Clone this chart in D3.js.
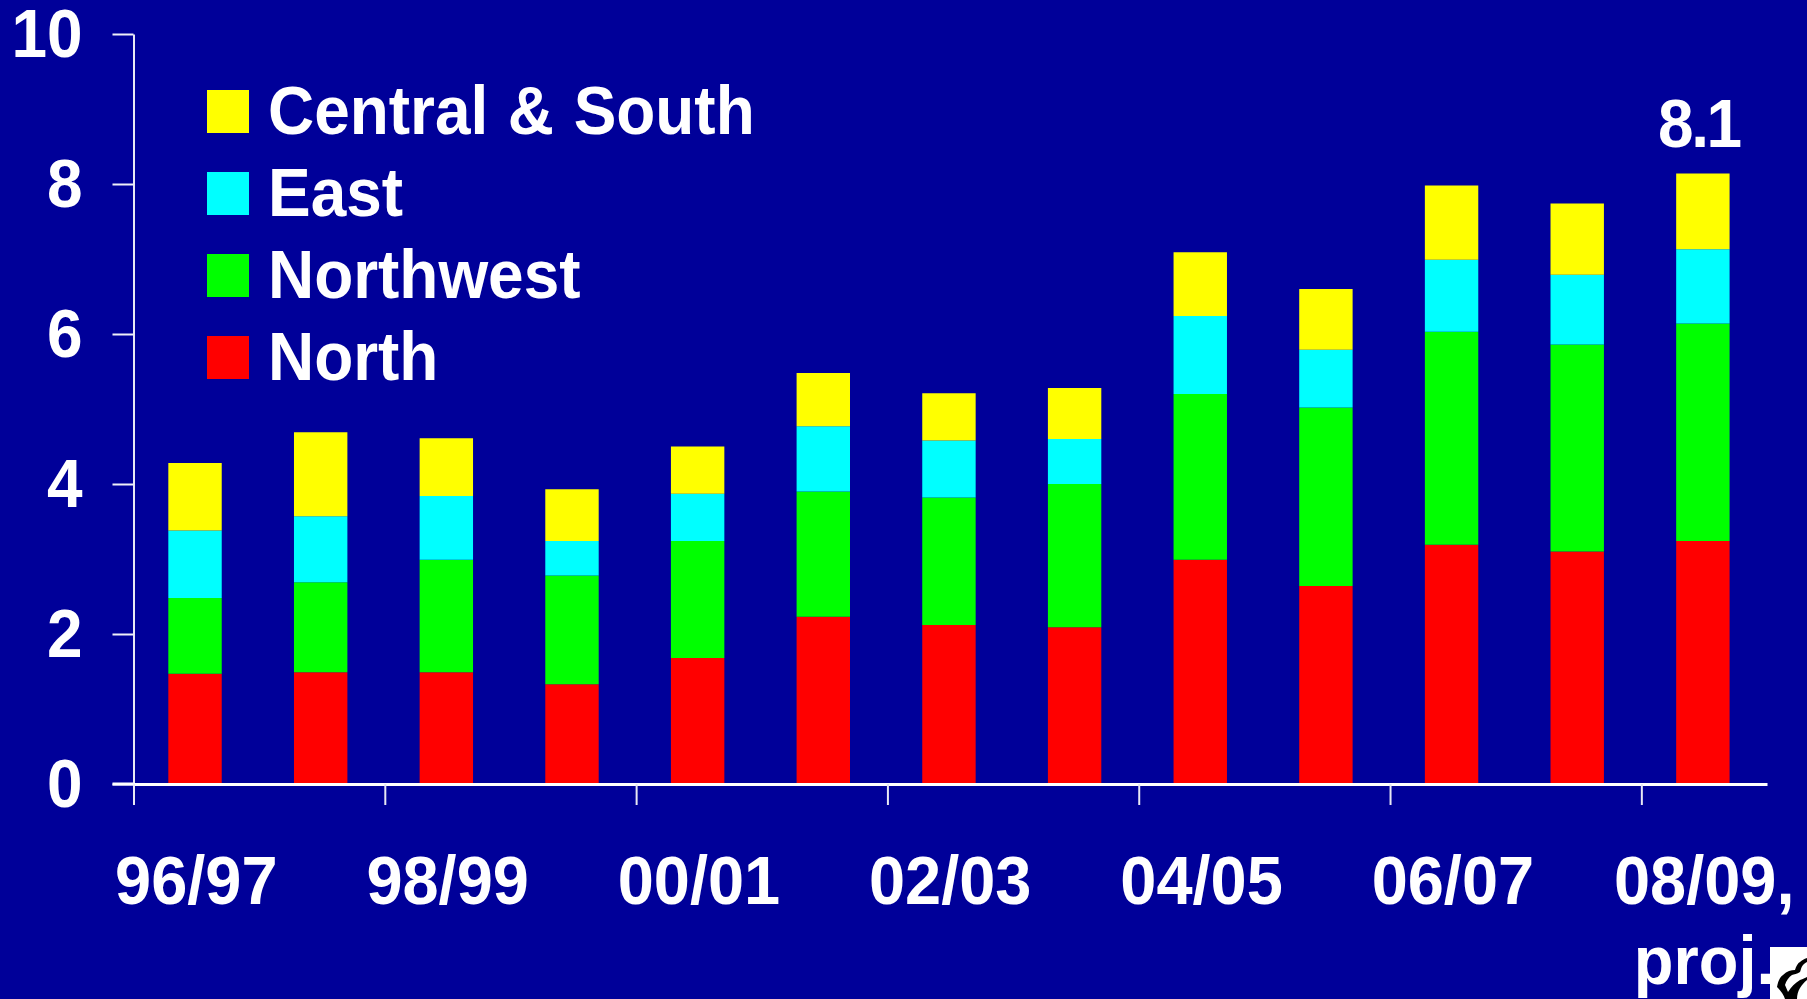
<!DOCTYPE html>
<html>
<head>
<meta charset="utf-8">
<script src="https://cdn.jsdelivr.net/npm/d3@7/dist/d3.min.js"></script>
<style>
html,body{margin:0;padding:0;background:#000099;overflow:hidden}
svg{display:block}
text{font-family:"Liberation Sans",Arial,sans-serif;font-weight:700;fill:#fff;font-size:68px}
</style>
</head>
<body>
<svg id="chart" width="1807" height="999"></svg>
<script>
const categories = ["96/97","97/98","98/99","99/00","00/01","01/02","02/03","03/04","04/05","05/06","06/07","07/08","08/09"];
const north     = [1.47,1.49,1.49,1.33,1.68,2.23,2.12,2.09,2.99,2.64,3.19,3.10,3.24];
const northwest = [1.01,1.20,1.50,1.45,1.56,1.67,1.70,1.91,2.21,2.38,2.84,2.76,2.90];
const east      = [0.90,0.88,0.85,0.46,0.63,0.87,0.76,0.60,1.04,0.77,0.96,0.93,0.99];
const central   = [0.90,1.12,0.77,0.69,0.63,0.71,0.63,0.68,0.85,0.81,0.99,0.95,1.01];
const seriesNames = ["North","Northwest","East","Central & South"];
const seriesColors = ["#ff0000","#00ff00","#00ffff","#ffff00"];
const yTicks = [0,2,4,6,8,10];
const xTickIndex = [0,2,4,6,8,10,12];
const xTickLabels = ["96/97","98/99","00/01","02/03","04/05","06/07","08/09,"];
const lastLabelLine2 = "proj.";
const totalLabel = "8.1";

const svg = d3.select("#chart");
const rows = categories.map((c,i)=>({cat:c,North:north[i],Northwest:northwest[i],East:east[i],"Central & South":central[i]}));
const stacked = d3.stack().keys(seriesNames)(rows);

const axisX0 = 133.5, axisX1 = 1767, axisY0 = 784, axisY1 = 34;
const y = d3.scaleLinear().domain([0,10]).range([axisY0,axisY1]);
const xIdx = d3.scaleLinear().domain([0,13]).range([axisX0,axisX1]);
const xBand = d3.scaleBand().domain(categories).range([axisX0-1.3,axisX1-1.3]).paddingInner(0.575).paddingOuter(0.2875);
const color = d3.scaleOrdinal().domain(seriesNames).range(seriesColors);
const halfStep = (xIdx(1)-xIdx(0))/2;
// the reference type is slightly condensed: tall glyphs at a narrower set width
const fit = (px,py,sx=0.94) => `translate(${px},${py}) scale(${sx},1)`;

// bars
svg.append("g").selectAll("g").data(stacked).join("g")
  .attr("fill",d=>color(d.key))
  .selectAll("rect").data(d=>d).join("rect")
  .attr("x",d=>xBand(d.data.cat))
  .attr("width",xBand.bandwidth())
  .attr("y",d=>y(d[1]))
  .attr("height",d=>y(d[0])-y(d[1]));

// y axis
const yAxis = d3.axisLeft(y).tickValues(yTicks).tickSize(21).tickSizeOuter(0).tickPadding(0);
const gy = svg.append("g").attr("transform",`translate(${axisX0},0)`).call(yAxis);
gy.attr("font-size",null).attr("font-family",null);
gy.selectAll("path.domain").attr("stroke","#e8e8f4").attr("stroke-width",2);
gy.selectAll(".tick line").attr("stroke","#f0f0f8").attr("stroke-width",2);
gy.selectAll(".tick text").attr("x",null).attr("dy",null).attr("y",null)
  .attr("text-anchor","end").attr("transform",fit(-51,22));

// x axis
const xAxis = d3.axisBottom(xIdx).tickValues(xTickIndex).tickSize(21).tickSizeOuter(0)
  .tickFormat((d,i)=>xTickLabels[i]);
const gx = svg.append("g").attr("transform",`translate(0,${axisY0})`).call(xAxis);
gx.attr("font-size",null).attr("font-family",null);
gx.selectAll("path.domain").attr("stroke","#fff").attr("stroke-width",3);
gx.selectAll(".tick line").attr("stroke","#e8e8f4").attr("stroke-width",2);
gx.selectAll(".tick text").attr("dy",null).attr("y",null).attr("x",null)
  .attr("text-anchor","middle").attr("transform",fit(halfStep-0.5,119.5,0.955));
gx.selectAll(".tick").filter(d=>d===12).append("text")
  .attr("fill","#fff").attr("text-anchor","middle")
  .attr("transform",fit(halfStep-0.5,200,0.955)).text(lastLabelLine2);

// x axis line extends left to the y=0 tick
svg.append("line").attr("x1",axisX0-21).attr("x2",axisX0).attr("y1",axisY0).attr("y2",axisY0)
  .attr("stroke","#fff").attr("stroke-width",3);

// total label
svg.append("text").attr("text-anchor","middle").attr("letter-spacing","-2.5px")
  .attr("transform",fit(xBand("08/09")+xBand.bandwidth()/2-4,147)).text(totalLabel);

// legend
const legendOrder = seriesNames.slice().reverse();
const legendY = d3.scalePoint().domain(legendOrder).range([90,336]);
const lg = svg.append("g").selectAll("g").data(legendOrder).join("g")
  .attr("transform",d=>`translate(207,${legendY(d)})`);
lg.append("rect").attr("width",42).attr("height",43).attr("fill",d=>color(d));
lg.append("text").attr("word-spacing","2px").attr("transform",fit(61,44)).text(d=>d);

// small icon in the corner
const icon = svg.append("g");
icon.append("rect").attr("x",1770).attr("y",947).attr("width",37).attr("height",52).attr("fill","#fff");
icon.append("path").attr("fill","#000")
  .attr("d","M1777 987 C1778 981 1780 977 1783 975 C1787 971 1791 970 1795 970 C1796 966 1798 963 1800 962 C1802 960 1804 959 1807 958 L1807 962 C1805 963 1804 964 1803 965 C1801 967 1801 970 1800 972 C1797 974 1794 974 1792 975 C1789 977 1786 981 1785 985 L1788 992 C1791 987 1795 983 1800 980 C1803 979 1805 978 1807 977 L1807 980 C1804 982 1802 985 1800 988 C1798 991 1797 995 1797 999 L1785 999 C1784 995 1780 990 1777 987 Z");
</script>
</body>
</html>
